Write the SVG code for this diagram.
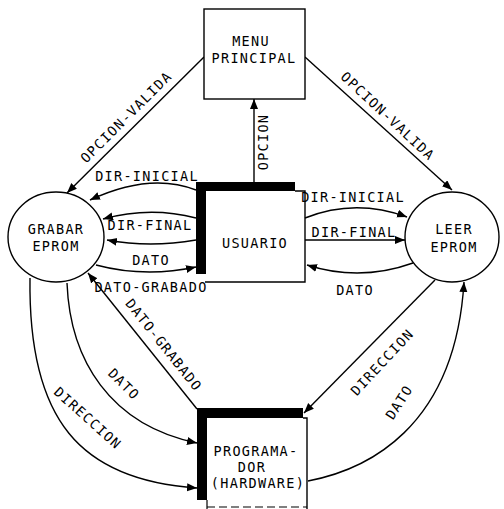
<svg xmlns="http://www.w3.org/2000/svg" width="504" height="509" viewBox="0 0 504 509">
<defs>
<marker id="ah" markerUnits="userSpaceOnUse" markerWidth="11" markerHeight="9" refX="10" refY="4" orient="auto">
<path d="M0,0 L10,4 L0,8 z" fill="#000"/>
</marker>
<style>
.ln{fill:none;stroke:#000;stroke-width:1.4;marker-end:url(#ah)}
.bx{fill:#fff;stroke:#000;stroke-width:1.4}
.th{fill:#000}
text{font-family:"DejaVu Sans Mono","Liberation Mono",monospace;font-size:13.5px;letter-spacing:1.3px;fill:#000;text-anchor:middle;dominant-baseline:central}
</style>
</defs>
<rect width="504" height="509" fill="#fff"/>

<g id="connectors">
<path class="ln" d="M204,57 L67,193"/>
<path class="ln" d="M305,57 L452,190"/>
<path class="ln" d="M254,182 L254,99"/>
<path class="ln" d="M196,190 Q150,172 90,200"/>
<path class="ln" d="M196,218 Q150,206 103,219"/>
<path class="ln" d="M196,240 Q150,248 107,240"/>
<path class="ln" d="M96,265 Q145,278 196,267"/>
<path class="ln" d="M197,409 L88,273"/>
<path class="ln" d="M67,283 C70,360 110,425 197,443"/>
<path class="ln" d="M30,278 C28,420 80,480 197,488"/>
<path class="ln" d="M305,218 Q355,198 407,217"/>
<path class="ln" d="M305,240 L405,240"/>
<path class="ln" d="M413,263 Q360,282 307,265"/>
<path class="ln" d="M435,280 L304,413"/>
<path class="ln" d="M308,481 C365,470 455,430 464,282"/>
<text x="126" y="117" transform="rotate(-45 126 117)">OPCION-VALIDA</text>
<text x="388" y="116" transform="rotate(43 388 116)">OPCION-VALIDA</text>
<text x="263" y="142" transform="rotate(-90 263 142)">OPCION</text>
<text x="147" y="176">DIR-INICIAL</text>
<text x="150" y="225">DIR-FINAL</text>
<text x="151" y="260">DATO</text>
<text x="151" y="287">DATO-GRABADO</text>
<text x="164" y="345" transform="rotate(51.5 164 345)">DATO-GRABADO</text>
<text x="124" y="384" transform="rotate(45 124 384)">DATO</text>
<text x="88" y="418" transform="rotate(42 88 418)">DIRECCION</text>
<text x="353" y="197">DIR-INICIAL</text>
<text x="354" y="232">DIR-FINAL</text>
<text x="355" y="290">DATO</text>
<text x="382" y="362" transform="rotate(-47 382 362)">DIRECCION</text>
<text x="399" y="402" transform="rotate(-57 399 402)">DATO</text>
</g>

<g id="menu">
<rect class="bx" x="204" y="9" width="101" height="90"/>
<text x="251" y="41">MENU</text>
<text x="254" y="58">PRINCIPAL</text>
</g>

<g id="usuario">
<path d="M295,191 L305,191 L305,282 L205,282" fill="none" stroke="#000" stroke-width="1.4"/>
<rect class="th" x="196" y="182" width="99" height="9"/>
<rect class="th" x="196" y="182" width="10" height="92"/>
<text x="255" y="243">USUARIO</text>
</g>

<g id="grabar">
<ellipse class="bx" cx="56" cy="237" rx="48" ry="45"/>
<text x="56" y="229">GRABAR</text>
<text x="56" y="246">EPROM</text>
</g>

<g id="leer">
<ellipse class="bx" cx="452" cy="237" rx="47" ry="45"/>
<text x="454" y="229">LEER</text>
<text x="454" y="247">EPROM</text>
</g>

<g id="programador">
<path d="M303,418 L307,418 L307,509" fill="none" stroke="#000" stroke-width="1.4"/>
<path d="M207,507 L307,507" fill="none" stroke="#000" stroke-width="1.2" stroke-dasharray="8,4"/>
<path d="M207,500 L207,509" fill="none" stroke="#000" stroke-width="1.2"/>
<rect class="th" x="197" y="408" width="106" height="10"/>
<rect class="th" x="197" y="408" width="10" height="92"/>
<text x="256" y="451">PROGRAMA-</text>
<text x="252" y="467">DOR</text>
<text x="258" y="483">(HARDWARE)</text>
</g>
</svg>
